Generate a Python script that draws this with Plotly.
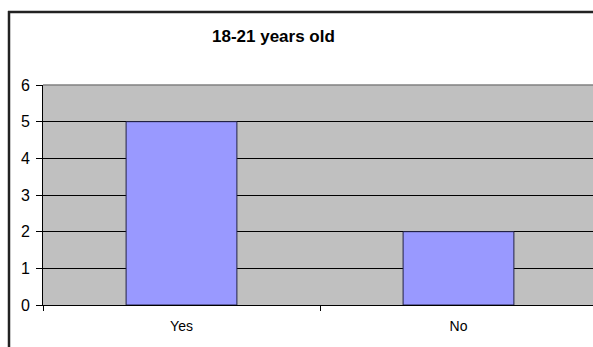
import plotly.graph_objects as go

categories = ["Yes", "No"]
values = [5, 2]
title_text = "18-21 years old"
y_ticks = [0, 1, 2, 3, 4, 5, 6]

W, H = 593, 347
ML, MT, MB, MR = 43, 85, 42, 0
pw = W - ML - MR
ph = H - MT - MB

def px_x(px):
    return (px - ML) / pw

def px_y(py):
    return (H - MB - py) / ph

fig = go.Figure()
fig.add_trace(go.Bar(
    x=categories, y=values, width=0.4,
    marker=dict(color="#9999FF", line=dict(color="#222244", width=1)),
))

fig.update_layout(
    width=W, height=H,
    margin=dict(l=ML, r=MR, t=MT, b=MB),
    paper_bgcolor="white",
    plot_bgcolor="#C0C0C0",
    showlegend=False,
    font=dict(family="Arial, Liberation Sans, sans-serif", size=13, color="black"),
)
fig.update_xaxes(
    range=[-0.5, 1.5 - 4 / 277],
    tickson="boundaries", ticks="outside", ticklen=5, tickcolor="black",
    showline=True, linecolor="black", linewidth=1,
    showgrid=False, tickfont=dict(family="Arial, Liberation Sans, sans-serif", size=14, color="black"),
    ticklabelstandoff=8,
)
fig.update_yaxes(
    range=[0, 6], tickvals=y_ticks, ticks="outside", ticklen=6, tickcolor="black",
    showline=True, linecolor="black", linewidth=1,
    showgrid=True, gridcolor="black", gridwidth=1, zeroline=False,
    tickfont=dict(family="Arial, Liberation Sans, sans-serif", size=16, color="black"),
    ticklabelstandoff=3,
)
# gray top border of the plot area
fig.add_shape(type="line", xref="paper", yref="paper", x0=0, x1=1, y0=1, y1=1,
              line=dict(color="#808080", width=1.5))
# outer chart border (cropped by the image): left and top edges
fig.add_shape(type="line", xref="paper", yref="paper",
              x0=px_x(9), x1=px_x(9), y0=px_y(11), y1=px_y(347),
              line=dict(color="#222222", width=2.5))
fig.add_shape(type="line", xref="paper", yref="paper",
              x0=px_x(8), x1=px_x(593), y0=px_y(12), y1=px_y(12),
              line=dict(color="#222222", width=2.5))
fig.add_annotation(text="<b>" + title_text + "</b>", xref="paper", yref="paper",
                   x=px_x(273), y=px_y(37), showarrow=False,
                   font=dict(size=17, color="black"), xanchor="center", yanchor="middle")

fig.write_html("out.html")
